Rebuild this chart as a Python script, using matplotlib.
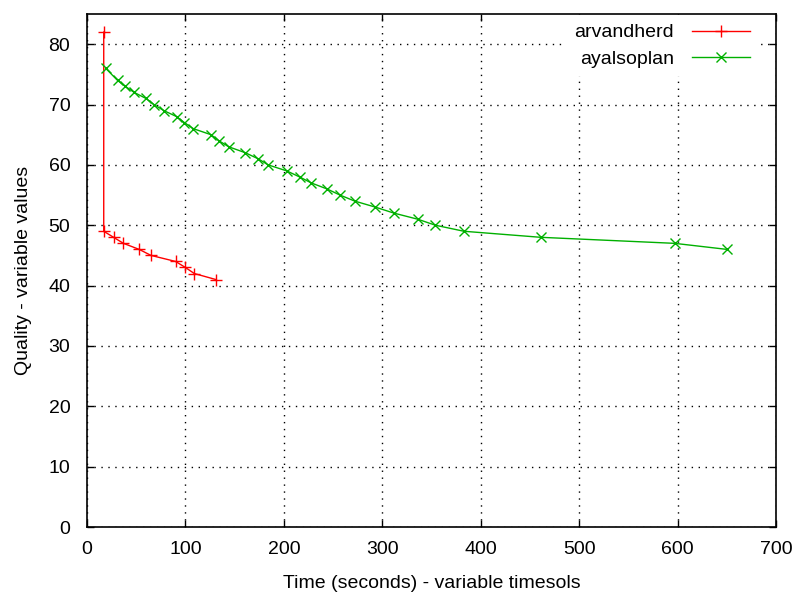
import matplotlib
matplotlib.use("Agg")
import matplotlib.pyplot as plt
from matplotlib import font_manager

fams = {f.name for f in font_manager.fontManager.ttflist}
fam = "Liberation Sans Narrow" if "Liberation Sans Narrow" in fams else "Liberation Sans"
plt.rcParams['font.family'] = [fam, 'DejaVu Sans']

arv_time = [17, 17, 27, 37, 53, 65, 90, 100, 109, 131]
arv_quality = [82, 49, 48, 47, 46, 45, 44, 43, 42, 41]

aya_time = [19, 31, 39, 48, 60, 68, 78, 91, 99, 108, 126, 134, 144, 161, 174,
            184, 203, 216, 228, 244, 257, 272, 293, 312, 336, 354, 383, 461, 597, 650]
aya_quality = [76, 74, 73, 72, 71, 70, 69, 68, 67, 66, 65, 64, 63, 62, 61,
               60, 59, 58, 57, 56, 55, 54, 53, 52, 51, 50, 49, 48, 47, 46]

xticks = [0, 100, 200, 300, 400, 500, 600, 700]
yticks = [0, 10, 20, 30, 40, 50, 60, 70, 80]

fig = plt.figure(figsize=(7.92, 5.96), dpi=100)
ax = fig.add_axes([87/792, 1-527/596, (776-87)/792, (527-14)/596])

ax.plot(arv_time, arv_quality, color='#ff0000', lw=1.0, marker='+', ms=8, mew=1.0, label='arvandherd')
ax.plot(aya_time, aya_quality, color='#00b000', lw=1.0, marker='x', ms=7, mew=1.0, label='ayalsoplan')

ax.set_xlim(0, 700)
ax.set_ylim(0, 85)
ax.set_xticks(xticks)
ax.set_yticks(yticks)
ax.tick_params(direction='in', length=5, top=True, right=True, labelsize=14, width=1)
ax.tick_params(axis='y', pad=12)
ax.tick_params(axis='x', pad=10)
ax.grid(True, color='black', linestyle=(0, (1, 4)), linewidth=1.0)
for s in ax.spines.values():
    s.set_linewidth(1.2)

ax.set_xlabel('Time (seconds) - variable timesols', fontsize=14, labelpad=12)
ax.set_ylabel('Quality - variable values', fontsize=14, labelpad=12)

leg = ax.legend(loc='upper right', bbox_to_anchor=((759-87)/689, 0.998),
                frameon=True, facecolor='white', edgecolor='none', framealpha=1.0,
                fancybox=False, markerfirst=False, fontsize=14,
                handlelength=3.0, handletextpad=0.93, labelspacing=0.45,
                borderaxespad=0.0, borderpad=0.45)
for t in leg.get_texts():
    t.set_ha('right')

fig.savefig('out.png', dpi=100)
